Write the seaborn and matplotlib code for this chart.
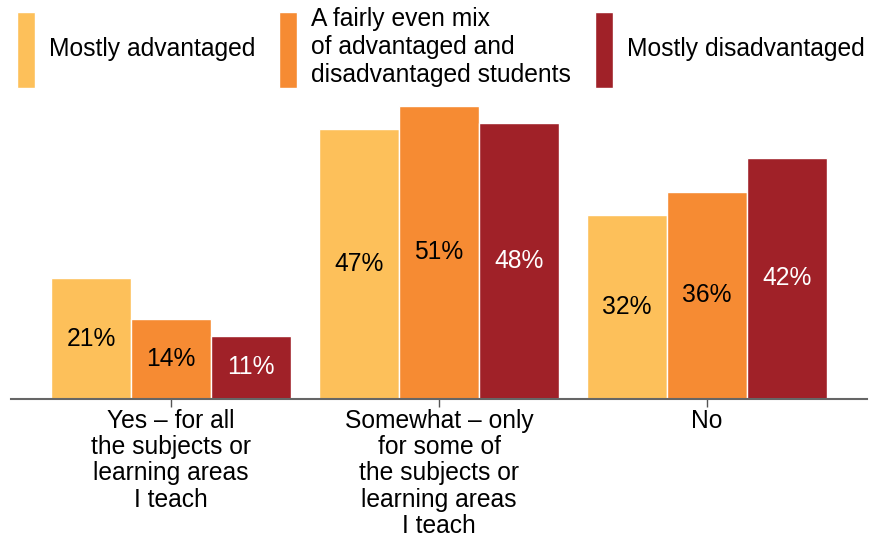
import matplotlib
matplotlib.use("Agg")
import matplotlib.pyplot as plt
import seaborn as sns
import pandas as pd

# Survey responses by school composition
categories = [
    "Yes – for all\nthe subjects or\nlearning areas\nI teach",
    "Somewhat – only\nfor some of\nthe subjects or\nlearning areas\nI teach",
    "No",
]
groups = [
    "Mostly advantaged",
    "A fairly even mix\nof advantaged and\ndisadvantaged students",
    "Mostly disadvantaged",
]
mostly_advantaged = [21, 47, 32]
even_mix = [14, 51, 36]
mostly_disadvantaged = [11, 48, 42]

colors = ["#FDC05A", "#F68B33", "#A02128"]
label_colors = ["black", "black", "white"]

df = pd.DataFrame({
    "category": categories * 3,
    "group": [groups[0]] * 3 + [groups[1]] * 3 + [groups[2]] * 3,
    "value": mostly_advantaged + even_mix + mostly_disadvantaged,
})

sns.set_theme(style="white")
plt.rcParams["font.family"] = ["Liberation Sans", "DejaVu Sans"]
plt.rcParams["text.color"] = "black"
FS = 17.7

W, H = 872, 538
fig = plt.figure(figsize=(W / 100, H / 100), dpi=100)
ax = fig.add_axes([11 / W, 139 / H, (867 - 11) / W, 299 / H])

sns.barplot(
    data=df, x="category", y="value", hue="group",
    order=categories, hue_order=groups, palette=colors, saturation=1,
    width=0.896, edgecolor="white", linewidth=1.0, ax=ax,
)

ax.set_xlim(-0.597, 2.597)
ax.set_ylim(0, 52)
ax.set_xlabel("")
ax.set_ylabel("")
ax.set_yticks([])

for spine in ["left", "right", "top"]:
    ax.spines[spine].set_visible(False)
ax.spines["bottom"].set_color("#666666")
ax.spines["bottom"].set_linewidth(1.5)
ax.tick_params(axis="x", bottom=True, length=6, width=1, color="#555555",
               direction="out", pad=1, labelsize=FS, labelcolor="black")
for lbl in ax.get_xticklabels():
    lbl.set_linespacing(1.12)

for container, tc in zip(ax.containers, label_colors):
    ax.bar_label(container, labels=[f"{v:.0f}%" for v in container.datavalues],
                 label_type="center", color=tc, fontsize=FS)

handles, labels = ax.get_legend_handles_labels()
leg = ax.legend(
    handles, labels, ncol=3, loc="upper left",
    bbox_to_anchor=(17 / W, 1 - 7 / H), bbox_transform=fig.transFigure,
    frameon=False, fontsize=FS, borderpad=0, borderaxespad=0,
    handlelength=18 / 24.6, handleheight=4.377,
    handletextpad=0.57, columnspacing=0.97,
)
for t in leg.get_texts():
    t.set_color("black")

fig.savefig("out.png", dpi=100)
